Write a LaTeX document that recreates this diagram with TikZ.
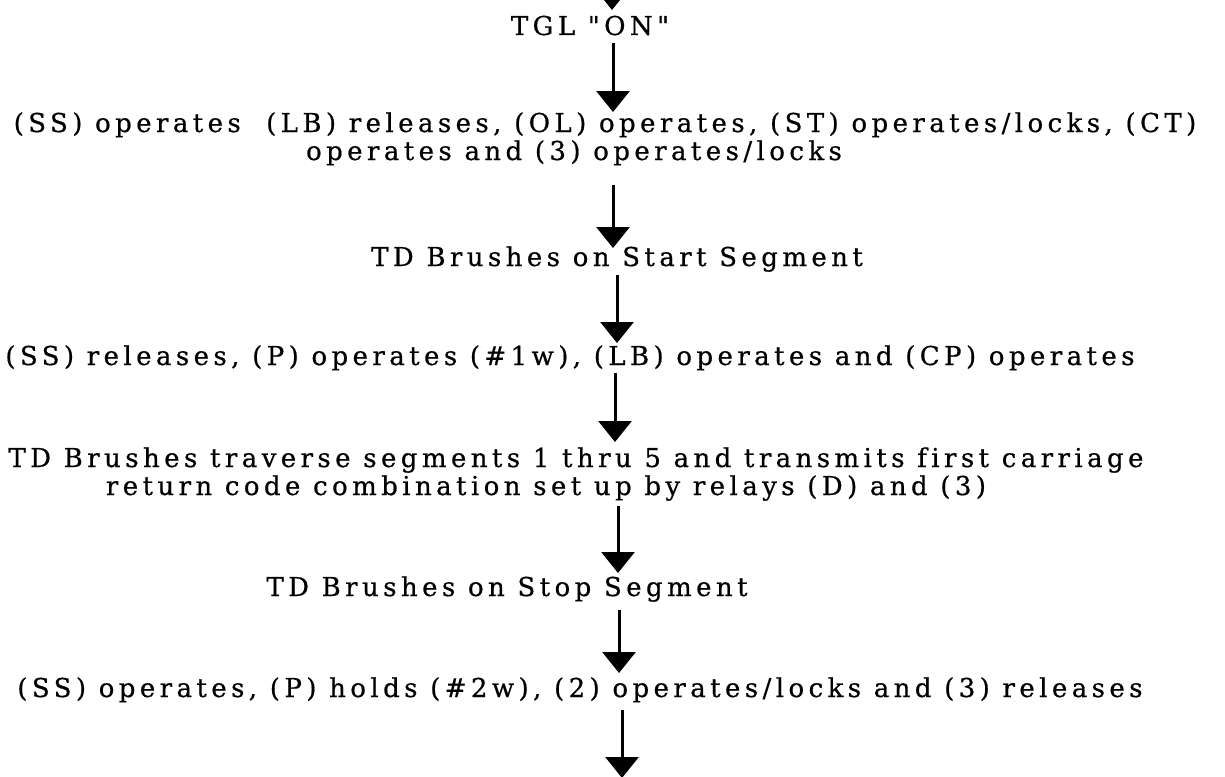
\documentclass[tikz,border=0pt]{standalone}
\usepackage{fontspec}
\setmainfont{DejaVu Serif}[LetterSpace=17, Ligatures={TeXOff,CommonOff}, FakeBold=0.6]
\usetikzlibrary{arrows.meta}
\begin{document}
\begin{tikzpicture}[x=1pt,y=-1pt,
  lbl/.style={anchor=base, inner sep=0pt, font=\fontsize{26}{28}\selectfont},
  arr/.style={line width=3pt, -{Triangle[width=33pt,length=21pt]}}]
\useasboundingbox (0,0) rectangle (1225,776);
\clip (0,0) rectangle (1225,776);
\node[lbl] (tgl)   at (590,35)  {TGL "ON"};
\node[lbl] (l1a)   at (605,132) {(SS) operates\ \ (LB) releases, (OL) operates, (ST) operates/locks, (CT)};
\node[lbl] (l1b)   at (574,160) {operates and (3) operates/locks};
\node[lbl] (start) at (617,266) {TD Brushes on Start Segment};
\node[lbl] (ssrel) at (570,365) {(SS) releases, (P) operates (\#1w), (LB) operates and (CP) operates};
\node[lbl] (tda)   at (576,467) {TD Brushes traverse segments 1 thru 5 and transmits first carriage};
\node[lbl] (tdb)   at (546,495) {return code combination set up by relays (D) and (3)};
\node[lbl] (stop)  at (507,596) {TD Brushes on Stop Segment};
\node[lbl] (ssop)  at (580,697) {(SS) operates, (P) holds (\#2w), (2) operates/locks and (3) releases};
\coordinate (top) at (612,-40);
\coordinate (x1) at (613,0);
\coordinate (x2) at (613,0);
\coordinate (x3) at (617,0);
\coordinate (x4) at (615,0);
\coordinate (x5) at (618,0);
\coordinate (x6) at (619,0);
\coordinate (bot) at (622,778);
\draw[arr] (top) -- ([yshift=25pt]tgl.base -| top);
\draw[arr] ([yshift=-8pt]tgl.base -| x1) -- ([yshift=20pt]l1a.base -| x1);
\draw[arr] ([yshift=-25pt]l1b.base -| x2) -- ([yshift=18pt]start.base -| x2);
\draw[arr] ([yshift=-9pt]start.base -| x3) -- ([yshift=22pt]ssrel.base -| x3);
\draw[arr] ([yshift=-8pt]ssrel.base -| x4) -- ([yshift=25pt]tda.base -| x4);
\draw[arr] ([yshift=-11pt]tdb.base -| x5) -- ([yshift=23pt]stop.base -| x5);
\draw[arr] ([yshift=-14pt]stop.base -| x6) -- ([yshift=24pt]ssop.base -| x6);
\draw[arr] ([yshift=-13pt]ssop.base -| bot) -- (bot);
\end{tikzpicture}
\end{document}
